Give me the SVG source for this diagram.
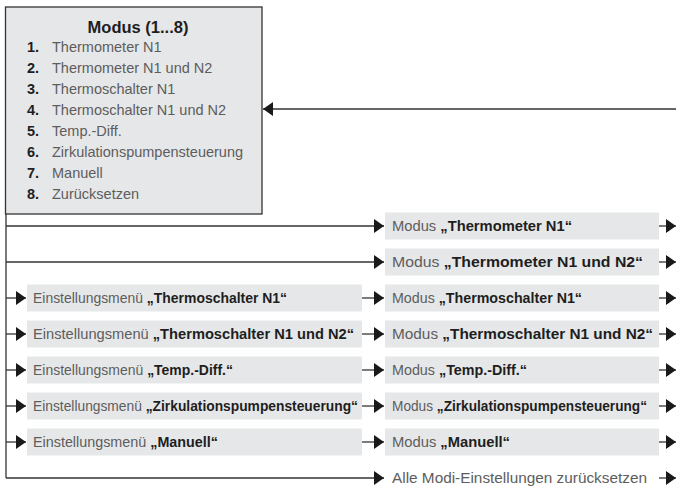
<svg xmlns="http://www.w3.org/2000/svg" width="676" height="487" viewBox="0 0 676 487">
<defs>
<style>
.box{fill:#e6e7e8}
.main{fill:#e6e7e8;stroke:#333;stroke-width:1.3}
.ln{stroke:#333;stroke-width:1.3;fill:none}
.ah{fill:#1a1a1a}
text{font-family:"Liberation Sans",Arial,sans-serif;font-size:15px;fill:#5d5d5d}
.b{font-weight:bold;fill:#1e1e1e}
.n{font-weight:bold;fill:#1e1e1e}
.li{font-size:14.5px}
.t{font-size:16.5px}
</style>
<marker id="arr" viewBox="0 0 10 14" refX="10" refY="7" markerWidth="10" markerHeight="14" markerUnits="userSpaceOnUse" orient="auto"><path class="ah" d="M0,0 L10,7 L0,14 z"/></marker>
</defs>
<rect width="676" height="487" fill="#fff"/>

<g id="modus">
<rect class="main" x="5.5" y="7" width="256.5" height="207"/>
<text class="b t" x="138" y="33" text-anchor="middle">Modus (1...8)</text>
<text class="li" x="27" y="52"><tspan class="n">1.</tspan><tspan x="52">Thermometer N1</tspan></text>
<text class="li" x="27" y="73"><tspan class="n">2.</tspan><tspan x="52">Thermometer N1 und N2</tspan></text>
<text class="li" x="27" y="94"><tspan class="n">3.</tspan><tspan x="52">Thermoschalter N1</tspan></text>
<text class="li" x="27" y="115"><tspan class="n">4.</tspan><tspan x="52">Thermoschalter N1 und N2</tspan></text>
<text class="li" x="27" y="136"><tspan class="n">5.</tspan><tspan x="52">Temp.-Diff.</tspan></text>
<text class="li" x="27" y="157"><tspan class="n">6.</tspan><tspan x="52">Zirkulationspumpensteuerung</tspan></text>
<text class="li" x="27" y="178"><tspan class="n">7.</tspan><tspan x="52">Manuell</tspan></text>
<text class="li" x="27" y="199"><tspan class="n">8.</tspan><tspan x="52">Zurücksetzen</tspan></text>
</g>

<g id="menu-ts1"><rect class="box" x="27" y="284.5" width="335" height="27"/><text x="33" y="303" textLength="254" lengthAdjust="spacingAndGlyphs">Einstellungsmenü <tspan class="b">„Thermoschalter N1“</tspan></text></g>
<g id="menu-ts12"><rect class="box" x="27" y="320.5" width="335" height="27"/><text x="33" y="339" textLength="321" lengthAdjust="spacingAndGlyphs">Einstellungsmenü <tspan class="b">„Thermoschalter N1 und N2“</tspan></text></g>
<g id="menu-td"><rect class="box" x="27" y="356.5" width="335" height="27"/><text x="33" y="375" textLength="200" lengthAdjust="spacingAndGlyphs">Einstellungsmenü <tspan class="b">„Temp.-Diff.“</tspan></text></g>
<g id="menu-zk"><rect class="box" x="27" y="392.5" width="335" height="27"/><text x="33" y="411" textLength="325" lengthAdjust="spacingAndGlyphs">Einstellungsmenü <tspan class="b">„Zirkulationspumpensteuerung“</tspan></text></g>
<g id="menu-man"><rect class="box" x="27" y="428.5" width="335" height="27"/><text x="33" y="447" textLength="185" lengthAdjust="spacingAndGlyphs">Einstellungsmenü <tspan class="b">„Manuell“</tspan></text></g>

<g id="mode-tm1"><rect class="box" x="385" y="212.5" width="274" height="27"/><text x="392" y="231" textLength="180" lengthAdjust="spacingAndGlyphs">Modus <tspan class="b">„Thermometer N1“</tspan></text></g>
<g id="mode-tm12"><rect class="box" x="385" y="248.5" width="274" height="27"/><text x="392" y="267" textLength="251" lengthAdjust="spacingAndGlyphs">Modus <tspan class="b">„Thermometer N1 und N2“</tspan></text></g>
<g id="mode-ts1"><rect class="box" x="385" y="284.5" width="274" height="27"/><text x="392" y="303" textLength="190" lengthAdjust="spacingAndGlyphs">Modus <tspan class="b">„Thermoschalter N1“</tspan></text></g>
<g id="mode-ts12"><rect class="box" x="385" y="320.5" width="274" height="27"/><text x="392" y="339" textLength="261" lengthAdjust="spacingAndGlyphs">Modus <tspan class="b">„Thermoschalter N1 und N2“</tspan></text></g>
<g id="mode-td"><rect class="box" x="385" y="356.5" width="274" height="27"/><text x="392" y="375" textLength="135" lengthAdjust="spacingAndGlyphs">Modus <tspan class="b">„Temp.-Diff.“</tspan></text></g>
<g id="mode-zk"><rect class="box" x="385" y="392.5" width="274" height="27"/><text x="392" y="411" textLength="255" lengthAdjust="spacingAndGlyphs">Modus <tspan class="b">„Zirkulationspumpensteuerung“</tspan></text></g>
<g id="mode-man"><rect class="box" x="385" y="428.5" width="274" height="27"/><text x="392" y="447" textLength="118" lengthAdjust="spacingAndGlyphs">Modus <tspan class="b">„Manuell“</tspan></text></g>
<g id="reset"><text x="392" y="483" textLength="255" lengthAdjust="spacingAndGlyphs">Alle Modi-Einstellungen zurücksetzen</text></g>

<g id="connectors">
<path class="ln" d="M676,109 H263" marker-end="url(#arr)"/>
<path class="ln" d="M6,214 V478"/>
<path class="ln" d="M6,226 H384" marker-end="url(#arr)"/>
<path class="ln" d="M6,262 H384" marker-end="url(#arr)"/>
<path class="ln" d="M6,478 H384" marker-end="url(#arr)"/>
<path class="ln" d="M6,298 H26" marker-end="url(#arr)"/>
<path class="ln" d="M6,334 H26" marker-end="url(#arr)"/>
<path class="ln" d="M6,370 H26" marker-end="url(#arr)"/>
<path class="ln" d="M6,406 H26" marker-end="url(#arr)"/>
<path class="ln" d="M6,442 H26" marker-end="url(#arr)"/>
<path class="ln" d="M362,298 H384" marker-end="url(#arr)"/>
<path class="ln" d="M362,334 H384" marker-end="url(#arr)"/>
<path class="ln" d="M362,370 H384" marker-end="url(#arr)"/>
<path class="ln" d="M362,406 H384" marker-end="url(#arr)"/>
<path class="ln" d="M362,442 H384" marker-end="url(#arr)"/>
<path class="ln" d="M659,226 H676" marker-end="url(#arr)"/>
<path class="ln" d="M659,262 H676" marker-end="url(#arr)"/>
<path class="ln" d="M659,298 H676" marker-end="url(#arr)"/>
<path class="ln" d="M659,334 H676" marker-end="url(#arr)"/>
<path class="ln" d="M659,370 H676" marker-end="url(#arr)"/>
<path class="ln" d="M659,406 H676" marker-end="url(#arr)"/>
<path class="ln" d="M659,442 H676" marker-end="url(#arr)"/>
<path class="ln" d="M659,478 H676" marker-end="url(#arr)"/>
</g>
</svg>
